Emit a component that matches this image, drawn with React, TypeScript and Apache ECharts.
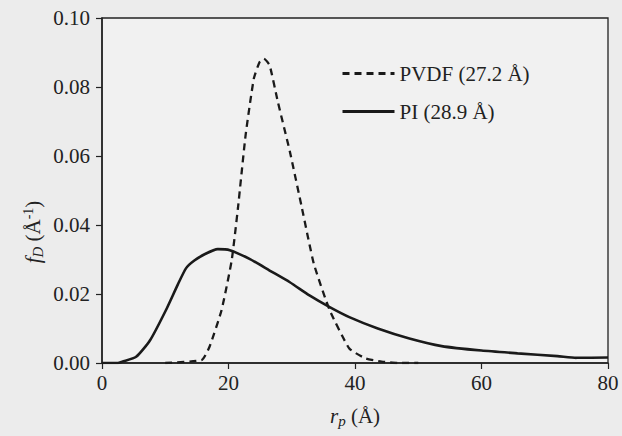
import React, { useEffect, useRef } from "react";
import * as echarts from "echarts";

const xTicks = [0, 20, 40, 60, 80];
const yTicks = [0, 0.02, 0.04, 0.06, 0.08, 0.1];

const piX = [0, 2.5, 3.2, 5.4, 7.6, 10.1, 12, 13.3, 14.6, 16.3, 18.3, 20.2, 23.4, 26.5, 29.7, 32.8, 36, 39.1, 43.6, 48.6, 53.7, 60, 65.7, 72, 75, 80];
const piY = [0, 0, 0.0004, 0.0018, 0.0066, 0.0153, 0.0228, 0.0275, 0.0297, 0.0316, 0.033, 0.0327, 0.0301, 0.0268, 0.0234, 0.0196, 0.0162, 0.0133, 0.01, 0.0071, 0.0049, 0.0036, 0.0028, 0.002, 0.0015, 0.0016];

const pvdfX = [10, 15.8, 17, 18.9, 20.5, 21.5, 22.7, 24, 24.9, 25.6, 26.5, 27.8, 29.7, 31.6, 33.5, 36, 39.1, 41.7, 44.2, 46.7, 50];
const pvdfY = [0, 0.0009, 0.0047, 0.0153, 0.0297, 0.045, 0.066, 0.0824, 0.0872, 0.0882, 0.0863, 0.0757, 0.0613, 0.045, 0.0287, 0.0153, 0.0042, 0.0013, 0.0004, 0, 0];

const seriesNames = ["PVDF (27.2 Å)", "PI (28.9 Å)"];

const FONT = "Liberation Serif, Times New Roman, serif";
const INK = "#222";
const FS = 21;

export default function App() {
  const ref = useRef<HTMLDivElement>(null);
  useEffect(() => {
    if (!ref.current) return;
    const chart = echarts.init(ref.current, undefined, { renderer: "svg" });
    const pi = piX.map((x, i) => [x, piY[i]]);
    const pvdf = pvdfX.map((x, i) => [x, pvdfY[i]]);
    chart.setOption({
      animation: false,
      backgroundColor: "#ececec",
      textStyle: { fontFamily: FONT, color: INK },
      grid: {
        left: 102,
        right: 14,
        top: 18,
        bottom: 73,
        show: true,
        backgroundColor: "#f1f1f1",
        borderColor: INK,
        borderWidth: 1.3,
      },
      legend: {
        left: 336,
        top: 58,
        orient: "vertical",
        itemWidth: 52,
        itemHeight: 14,
        itemGap: 17,
        itemStyle: { opacity: 0 },
        lineStyle: { width: 3 },
        textStyle: { fontFamily: FONT, fontSize: FS, color: INK },
        data: seriesNames,
      },
      graphic: [
        {
          type: "text",
          x: 33,
          y: 232,
          rotation: Math.PI / 2,
          style: {
            text: "{i|f}{sub|D} (Å{sup|-1})",
            align: "center",
            verticalAlign: "middle",
            fill: INK,
            font: `${FS}px ${FONT}`,
            rich: {
              i: { fontFamily: FONT, fontSize: FS, fontStyle: "italic", fill: INK },
              sub: { fontFamily: FONT, fontSize: 15, fontStyle: "italic", fill: INK, padding: [10, 0, 0, 0] },
              sup: { fontFamily: FONT, fontSize: 14, fill: INK, padding: [0, 0, 10, 0] },
              n: { fontFamily: FONT, fontSize: FS, fill: INK },
            },
          },
        },
      ],
      xAxis: {
        type: "value",
        min: 0,
        max: 80,
        interval: 20,
        axisLine: { lineStyle: { color: INK, width: 1.5 } },
        axisTick: { show: true, inside: false, length: 6, lineStyle: { color: INK, width: 1.2 } },
        axisLabel: {
          fontFamily: FONT,
          fontSize: FS,
          color: INK,
          margin: 9,
          formatter: (v: number) => (xTicks.includes(v) ? String(v) : ""),
        },
        splitLine: { show: false },
        name: "{i|r}{sub|p} (Å)",
        nameLocation: "middle",
        nameGap: 40,
        nameTextStyle: {
          fontFamily: FONT,
          fontSize: FS,
          color: INK,
          rich: {
            i: { fontFamily: FONT, fontSize: FS, fontStyle: "italic", color: INK },
            sub: { fontFamily: FONT, fontSize: 15, fontStyle: "italic", color: INK, padding: [10, 0, 0, 0] },
          },
        },
      },
      yAxis: {
        type: "value",
        min: 0,
        max: 0.1,
        interval: 0.02,
        axisLine: { show: true, lineStyle: { color: INK, width: 1.5 } },
        axisTick: { show: true, inside: false, length: 6, lineStyle: { color: INK, width: 1.2 } },
        axisLabel: {
          fontFamily: FONT,
          fontSize: FS,
          color: INK,
          margin: 12,
          formatter: (v: number) => {
            const t = yTicks.find((y) => Math.abs(y - v) < 1e-9);
            return t === undefined ? "" : t.toFixed(2);
          },
        },
        splitLine: { show: false },
      },
      series: [
        {
          name: seriesNames[0],
          type: "line",
          data: pvdf,
          showSymbol: false,
          symbol: "none",
          smooth: 0.15,
          lineStyle: { color: "#1a1a1a", width: 2.3, type: [7, 5] },
          itemStyle: { color: "#1a1a1a" },
          z: 3,
        },
        {
          name: seriesNames[1],
          type: "line",
          data: pi,
          showSymbol: false,
          symbol: "none",
          smooth: 0.2,
          lineStyle: { color: "#1a1a1a", width: 2.6 },
          itemStyle: { color: "#1a1a1a" },
          z: 4,
        },
      ],
    });
    return () => chart.dispose();
  }, []);
  return <div ref={ref} style={{ width: 622, height: 436, position: "absolute", left: 0, top: 0 }} />;
}
